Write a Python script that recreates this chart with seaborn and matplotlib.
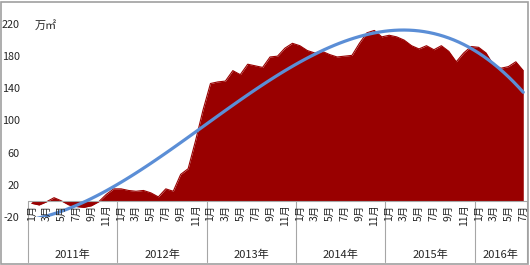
import numpy as np
import pandas as pd
import matplotlib
matplotlib.use("Agg")
import matplotlib.pyplot as plt
import seaborn as sns
from matplotlib.lines import Line2D
from matplotlib.patches import Rectangle

# ---------------- data ----------------
years = ["2011年", "2012年", "2013年", "2014年", "2015年", "2016年"]
months_in_year = [12, 12, 12, 12, 12, 7]
month_names = ["1月", "2月", "3月", "4月", "5月", "6月",
               "7月", "8月", "9月", "10月", "11月", "12月"]
shown_months = ["1月", "3月", "5月", "7月", "9月", "11月"]
values_2011 = [-3, -5, -1, 4, 0, -5, -7, -8, -6, -1, 8, 15]
values_2012 = [15, 13, 12, 13, 10, 5, 15, 12, 33, 40, 75, 113]
values_2013 = [146, 148, 149, 162, 157, 170, 168, 166, 179, 180, 190, 196]
values_2014 = [193, 187, 184, 186, 182, 179, 180, 181, 196, 209, 212, 204]
values_2015 = [206, 204, 200, 193, 189, 193, 188, 193, 186, 173, 184, 192]
values_2016 = [191, 184, 169, 165, 167, 173, 162]
unit_label = "万㎡"
y_ticks = [-20, 20, 60, 100, 140, 180, 220]

values = values_2011 + values_2012 + values_2013 + values_2014 + values_2015 + values_2016
cats = [m for n in months_in_year for m in month_names[:n]]
df = pd.DataFrame({"idx": np.arange(len(values)), "month": cats, "value": values})

# ---------------- style ----------------
sns.set_style("white")
plt.rcParams["font.family"] = ["Noto Sans CJK SC", "DejaVu Sans"]
text_color = "#262626"
area_color = "#990000"
trend_color = "#5B8ED6"
sep_color = "#A6A6A6"

W, H = 530, 265
fig = plt.figure(figsize=(W / 100, H / 100), dpi=100)
ax = fig.add_axes([28 / W, 1 - 217 / H, (527 - 28) / W, 193 / H])

# area
sns.lineplot(data=df, x="idx", y="value", color=area_color, lw=0.8, ax=ax)
ax.fill_between(df["idx"], 0, df["value"], color=area_color, lw=0)

# zero axis line
ax.axhline(0, color=sep_color, lw=0.8, zorder=3)

# polynomial trend line
sns.regplot(data=df, x="idx", y="value", order=3, scatter=False, ci=None,
            truncate=True, line_kws=dict(color=trend_color, lw=2.3, zorder=4), ax=ax)

ax.set_xlim(-0.5, len(values) - 0.5)
ax.set_ylim(-20, 220)
ax.set_yticks(y_ticks)
ax.set_yticklabels([str(t) for t in y_ticks], fontsize=7.8, color=text_color)
ax.tick_params(axis="y", length=0, pad=6)
ax.set_xticks([])
ax.set_xlabel("")
ax.set_ylabel("")
for s in ax.spines.values():
    s.set_visible(False)

# month labels next to the zero line
for i, m in enumerate(cats):
    if m in shown_months:
        ax.annotate(m, xy=(i, 0), xytext=(0, -2.5), textcoords="offset points",
                    ha="center", va="top", rotation=90, fontsize=7.5,
                    color=text_color, annotation_clip=False, zorder=5)

# year groups with separators
xt = ax.get_xaxis_transform()
y0 = (217 - 201) / 193
y1 = (217 - 262) / 193
start = -0.5
bounds = [start]
for n in months_in_year:
    bounds.append(bounds[-1] + n)
for b in bounds:
    ax.add_line(Line2D([b, b], [y0, y1], transform=xt, color=sep_color,
                       lw=0.8, clip_on=False))
for k, yr in enumerate(years):
    c = (bounds[k] + bounds[k + 1]) / 2
    ax.text(c, (217 - 255) / 193, yr, transform=xt, ha="center", va="center",
            fontsize=8, color=text_color)

# unit label
fig.text(35 / W, 1 - 25 / H, unit_label, ha="left", va="center",
         fontsize=8, color=text_color)

# chart border
fig.patches.append(Rectangle((1 / W, 1 / H), (W - 3) / W, (H - 3) / H,
                             transform=fig.transFigure, fill=False,
                             edgecolor="#A0A0A0", lw=1.2))

fig.savefig("out.png", dpi=100)
